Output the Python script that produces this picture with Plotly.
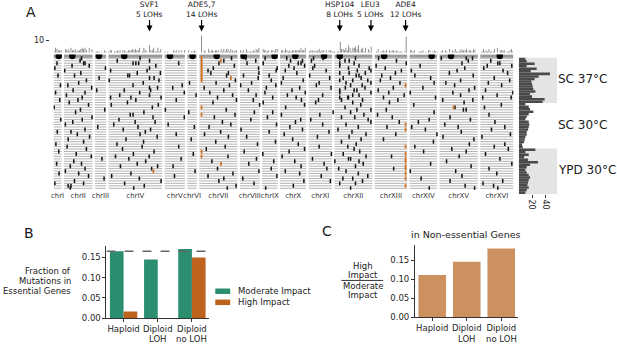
import plotly.graph_objects as go

W, H = 617, 349
def px(x): return x / W
def py(y): return 1 - y / H

FONT = "DejaVu Sans"

# ---------------- data ----------------
chrom_names = ["chrI", "chrII", "chrIII", "chrIV", "chrV", "chrVI", "chrVII", "chrVIII",
               "chrIX", "chrX", "chrXI", "chrXII", "chrXIII", "chrXIV", "chrXV", "chrXVI"]
chrom_len_kb = [230.2, 813.2, 316.6, 1531.9, 576.9, 270.2, 1090.9, 562.6,
                439.9, 745.8, 666.8, 1078.2, 924.4, 784.3, 1091.3, 948.1]
centromere_kb = [151.5, 238.2, 114.4, 449.7, 151.9, 148.5, 496.9, 105.6,
                 355.6, 436.3, 440.1, 150.9, 268.0, 628.8, 326.6, 555.9]

# mutations per clone: "chromosome:kb", suffix o = highlighted (orange)
sc37_rows = [
    "2:500 4:900 7:65o 7:920 8:170 9:85 10:190 11:140 11:410 12:150 12:600 13:110 15:50 15:760 15:940",
    "2:460 4:250 4:1170 7:65o 7:615o 7:700 8:450 10:300 10:640 11:80 12:300 12:420 13:620 15:820 16:300",
    "1:100 2:560 2:600 4:700 4:780 4:860 5:400 7:65o 7:560 8:200 9:30 10:520 10:600 12:150 12:560 13:900 15:640 16:500 16:560",
    "2:230 2:720 4:1350 7:65o 7:1000 10:250 10:700 11:170 12:150 12:700 13:40 14:300 16:200 16:900",
    "1:40 3:300 4:1170 7:65o 7:400 8:530 9:430 10:400 11:120 12:400 12:990 13:300 15:720 16:100",
    "2:20 4:60 4:1100 7:65o 7:250 9:400 10:150 11:500 12:1040 12:650 13:760 14:50 15:500 16:650",
    "2:480 4:820 4:1480 7:65o 7:330 7:830 8:540 10:480 12:150 12:420 12:880 13:590 15:280 16:780",
    "1:130 2:300 4:550 4:600 7:65o 7:780 8:100 9:200 11:30 12:620 12:700 13:200 14:150 15:960",
    "3:120 4:1170 4:1300 7:65o 7:900o 8:520 10:90 11:600 12:250 12:760 13:450 14:600 16:400",
    "2:640 4:20 4:1440 7:65o 7:1030 9:260 10:660 12:150 12:520 12:950 13:160 15:600 16:840",
    "2:420 4:990 6:60 7:480 8:330 10:40 11:300 12:1040 12:330 13:720 14:700 15:180 16:230",
    "1:200 2:110 4:700 5:500 7:860 8:20 9:390 11:220 12:460 12:790 13:880o 15:430 16:610",
    "2:790 4:1170 4:1400 5:230 7:140 9:120 10:560 11:640 12:310 12:870 13:530 14:380 15:1000",
    "2:260 3:50 4:450 4:1200 7:700 8:240 10:340 12:150 12:560 12:640 13:100 15:840 16:150",
    "1:60 2:600 4:890 5:560 7:300 9:80 10:720 12:150 12:1040 13:400 14:20 15:380 16:930",
    "2:70 4:1170 4:320 6:250 7:950 8:460 10:210 11:400 12:520 12:700 13:840 15:600 16:480",
    "2:520 4:60 4:640 4:1500 7:520 9:300 10:460 12:150 12:380 12:400 13:250 14:740 16:70 16:880",
    "1:180 2:400 4:780 5:330 7:1060 8:380 10:610 11:280 12:200 12:800 13:660 15:90 15:950",
]
sc30_rows = [
    "2:150 4:540 7:390 9:30 11:200 12:520 13:420 15:700",
    "2:700 4:80 4:1420 8:560 10:700 12:750 14:120 16:600",
    "1:20 4:1250 7:65o 10:160 12:300 15:400o 15:440 16:120",
    "2:470 3:280 5:20 7:770 12:1040 12:640 13:330 15:680 15:760",
    "2:330 4:1010 6:40 8:410 9:300 11:700 12:460 14:700",
    "4:620 4:700 7:65o 7:1020 10:40 11:320 12:840 13:80 16:250",
    "2:800 4:1270 5:560 7:430 9:150 12:200 12:580 13:500 15:300",
    "1:210 2:520 4:300 8:310 10:590 11:60 12:960 14:560 15:880",
    "2:250 4:760 4:1330 7:660 10:440 12:1040 13:700 14:250 16:420",
    "2:40 4:150 5:100 7:900 9:410 11:400 12:330 13:880o 15:150",
    "3:80 4:840 6:200 7:280 10:280 12:680 13:350 14:60 15:530 16:700",
    "2:600 4:420 4:1200 8:30 10:640 12:100 13:880o 14:450 16:320",
    "1:110 2:200 4:1050 7:610 9:200 11:580 12:500 15:620",
    "2:380 4:900 5:330 7:150 10:120 12:900 13:600 14:780 16:860",
    "2:730 4:1390 7:830 8:190 11:250 12:420 15:100 16:50",
    "2:120 4:500 6:110 10:360 12:760 13:250 15:980",
    "2:560 4:1000 7:470 9:380 12:200 14:680",
    "1:70 4:240 8:500 10:520 12:620 15:850 16:700",
]
ypd_rows = [
    "2:90 4:960 5:400 7:740 11:300 12:380 13:880o 14:150 16:400",
    "2:640 4:400 7:200 10:700 12:560 15:350 16:800",
    "1:150 4:1300 7:65o 8:120 10:260 12:720 14:400 15:760",
    "2:350 4:710 6:170 9:20 11:650 12:250 13:880o 16:150",
    "2:780 4:200 4:1160 7:65o 7:820 10:60 12:900 13:480 15:560",
    "3:200 4:580 5:470 8:470 11:110 12:400 12:460 13:880o 16:560",
    "2:280 4:1060 7:360 9:330 10:420 12:10 12:700 13:880o 15:200",
    "1:90 2:500 4:820 7:620o 8:250 11:440 12:820 14:600 16:900",
    "2:180 4:340 4:1400 5:240 10:600 12:600 13:880o 15:900",
    "2:600 4:1230 7:520 9:260 11:520 12:120 13:880o 13:540 16:250",
    "2:40 4:1280o 6:220 8:540 10:150 12:330 14:20 15:460",
    "1:160 2:420 4:640 7:960 10:560 12:680 13:880o 16:470",
    "2:700 4:90 5:280 7:250 9:420 11:360 12:950 15:640",
    "3:260 4:880 7:700 8:80 12:240 12:520 13:880o 14:330",
    "2:300 4:1500 7:560 10:680 11:620 12:800 15:300 16:640",
    "1:40 2:560 4:460 8:400 12:150 12:600 16:80",
    "2:120 2:200 4:1020 7:1050 10:380 13:880o 15:730 16:380",
    "2:180 4:720 7:800 9:100 12:460 14:560 15:1000 16:500",
]
env_labels = ["SC 37°C", "SC 30°C", "YPD 30°C"]

# mutations per clone (right histogram)
clone_counts = [10, 12, 24, 12, 27, 18, 47, 30, 24, 19, 20, 21, 22, 25, 17, 20, 39, 36,
                10, 15, 17, 22, 15, 12, 10, 15, 16, 15, 14, 12, 12, 10, 9, 8, 5, 6,
                25, 10, 15, 8, 14, 29, 17, 12, 10, 12, 15, 17, 15, 14, 13, 15, 12, 10]

genes = ["SVF1", "ADE5,7", "HSP104", "LEU3", "ADE4"]
gene_lohs = [5, 14, 8, 5, 12]
gene_chrom = [4, 7, 12, 12, 13]
gene_kb = [1170, 65, 150, 1040, 880]

group_line1 = ["Haploid", "Diploid", "Diploid"]
group_line2 = ["", "LOH", "no LOH"]
essential_moderate = [0.1655, 0.145, 0.171]
essential_high = [0.0163, 0.0, 0.150]
essential_expected = 0.1655
nonessential_ratio = [0.111, 0.146, 0.181]

# ---------------- derived ----------------
GAP = 70
offsets = []
acc = 0.0
for L in chrom_len_kb:
    offsets.append(acc)
    acc += L + GAP
genome_end = acc - GAP

all_rows = sc37_rows + sc30_rows + ypd_rows
n_rows = len(all_rows)

line_x, line_y = [], []
for r in range(1, n_rows + 1):
    for o, L in zip(offsets, chrom_len_kb):
        line_x += [o, o + L, None]
        line_y += [r, r, None]

top_x, top_y = [], []
for o, L in zip(offsets, chrom_len_kb):
    top_x += [o, o + L, None]
    top_y += [0, 0, None]

blk_x, blk_y, org_x, org_y, all_pos = [], [], [], [], []
for r, s in enumerate(all_rows, start=1):
    for tok in s.split():
        c, kb = tok.split(":")
        orange = kb.endswith("o")
        kb = float(kb.rstrip("o"))
        g = offsets[int(c) - 1] + kb
        all_pos.append(g)
        if orange:
            org_x.append(g); org_y.append(r)
        else:
            blk_x.append(g); blk_y.append(r)

fig = go.Figure()

fig.add_trace(go.Scatter(x=line_x, y=line_y, mode="lines",
                         line=dict(color="#b4b4b4", width=1), hoverinfo="skip"))
fig.add_trace(go.Scatter(x=top_x, y=top_y, mode="lines",
                         line=dict(color="#999999", width=3.5), hoverinfo="skip"))
fig.add_trace(go.Scatter(x=[o + c for o, c in zip(offsets, centromere_kb)], y=[0] * 16,
                         mode="markers", marker=dict(color="black", size=6.5)))
fig.add_trace(go.Scatter(x=blk_x, y=blk_y, mode="markers",
                         marker=dict(symbol="line-ns", size=2.8, line=dict(width=1.5, color="#111111"))))
fig.add_trace(go.Scatter(x=org_x, y=org_y, mode="markers",
                         marker=dict(symbol="line-ns", size=2.8, line=dict(width=1.7, color="#d0711f"))))

fig.add_trace(go.Histogram(x=all_pos, xbins=dict(start=0, end=genome_end, size=40),
                           marker=dict(color="#707070", line=dict(width=0)),
                           xaxis="x2", yaxis="y2"))

fig.add_trace(go.Bar(x=clone_counts, y=list(range(1, n_rows + 1)), orientation="h",
                     width=1, marker=dict(color="#4a4a4a", line=dict(width=0)),
                     xaxis="x3", yaxis="y3"))

fig.add_trace(go.Bar(x=[0, 1, 2], y=essential_moderate, width=0.4, offset=-0.4,
                     marker=dict(color="#2b8e70", line=dict(width=0)),
                     name="Moderate Impact", xaxis="x4", yaxis="y4"))
fig.add_trace(go.Bar(x=[0, 1, 2], y=essential_high, width=0.4, offset=0,
                     marker=dict(color="#be631d", line=dict(width=0)),
                     name="High Impact", xaxis="x4", yaxis="y4"))

fig.add_trace(go.Bar(x=[0, 1, 2], y=nonessential_ratio, width=0.8,
                     marker=dict(color="#cc915f", line=dict(width=0)),
                     xaxis="x5", yaxis="y5"))

tickfont = dict(family=FONT, size=8.5, color="#262626")
chrom_centers = [o + L / 2 for o, L in zip(offsets, chrom_len_kb)]

fig.update_layout(
    width=W, height=H, margin=dict(l=0, r=0, t=0, b=0),
    paper_bgcolor="white", plot_bgcolor="rgba(0,0,0,0)",
    showlegend=False, bargap=0.45, hovermode=False,
    font=dict(family=FONT, color="#262626"),
    xaxis=dict(domain=[px(50.7), px(513)], range=[0, genome_end], anchor="y",
               tickvals=chrom_centers, ticktext=chrom_names, ticks="", tickangle=0,
               tickfont=dict(family=FONT, size=7, color="#333"),
               showgrid=False, zeroline=False, showline=False),
    yaxis=dict(domain=[py(192.5), py(55.2)], range=[n_rows + 0.6, -0.6], anchor="x",
               visible=False, showgrid=False, zeroline=False),
    xaxis2=dict(domain=[px(50.7), px(513)], range=[0, genome_end], anchor="y2",
                visible=False, showgrid=False, zeroline=False),
    yaxis2=dict(domain=[py(53.5), py(28.5)], range=[0, 20], anchor="free", position=px(46),
                tickvals=[10], ticks="outside", ticklen=3, tickcolor="#333",
                tickfont=dict(family=FONT, size=8, color="#262626"),
                showgrid=False, zeroline=False, showline=False),
    xaxis3=dict(domain=[px(518.3), px(556.7)], range=[0, 57.6], anchor="y3",
                tickvals=[20, 40], tickangle=90, ticks="outside", ticklen=3, tickcolor="#333",
                tickfont=dict(family=FONT, size=8, color="#262626"),
                showgrid=False, zeroline=False, showline=False),
    yaxis3=dict(domain=[py(196.7), py(58.3)], range=[n_rows + 0.5, 0.5], anchor="x3",
                visible=False, showgrid=False, zeroline=False),
    xaxis4=dict(domain=[px(104), px(207)], range=[-0.5, 2.5], anchor="y4",
                tickvals=[0, 1, 2], ticktext=group_line1, ticks="outside", ticklen=3,
                tickcolor="#333", tickfont=tickfont, showline=True, linecolor="#333",
                linewidth=1, showgrid=False, zeroline=False, tickangle=0),
    yaxis4=dict(domain=[py(322.7), py(249.3)], range=[0, 0.179], anchor="x4",
                tickvals=[0, 0.05, 0.10, 0.15], tickformat=".2f", ticks="outside", ticklen=3,
                tickcolor="#333", tickfont=tickfont, showline=True, linecolor="#333",
                linewidth=1, showgrid=False, zeroline=False),
    xaxis5=dict(domain=[px(414), px(518)], range=[-0.5, 2.5], anchor="y5",
                tickvals=[0, 1, 2], ticktext=group_line1, ticks="outside", ticklen=3,
                tickcolor="#333", tickfont=tickfont, showline=True, linecolor="#333",
                linewidth=1, showgrid=False, zeroline=False, tickangle=0),
    yaxis5=dict(domain=[py(321.7), py(248.3)], range=[0, 0.191], anchor="x5",
                tickvals=[0, 0.05, 0.10, 0.15], tickformat=".2f", ticks="outside", ticklen=3,
                tickcolor="#333", tickfont=tickfont, showline=True, linecolor="#333",
                linewidth=1, showgrid=False, zeroline=False),
)

shapes = [
    dict(type="rect", xref="x3", yref="y3", x0=0, x1=57.6, y0=0.5, y1=18.5,
         fillcolor="#e4e4e4", line=dict(width=0), layer="below"),
    dict(type="rect", xref="x3", yref="y3", x0=0, x1=57.6, y0=36.5, y1=54.5,
         fillcolor="#e4e4e4", line=dict(width=0), layer="below"),
    dict(type="line", xref="x4", yref="y4", x0=-0.5, x1=2.5,
         y0=essential_expected, y1=essential_expected,
         line=dict(color="#666666", width=1.6, dash="dash")),
    dict(type="rect", xref="paper", yref="paper", x0=px(213.3), x1=px(228.3),
         y0=py(298.3), y1=py(292.7), fillcolor="#2b8e70", line=dict(width=0)),
    dict(type="rect", xref="paper", yref="paper", x0=px(213.3), x1=px(228.3),
         y0=py(309.5), y1=py(303.9), fillcolor="#be631d", line=dict(width=0)),
    dict(type="line", xref="paper", yref="paper", x0=px(340), x1=px(382),
         y0=py(284.5), y1=py(284.5), line=dict(color="#333", width=1)),
]
fig.update_layout(shapes=shapes)

ann = []
def txt(x, y, text, size, xanchor="center", yanchor="middle", align="center"):
    ann.append(dict(x=px(x), y=py(y), xref="paper", yref="paper", text=text,
                    showarrow=False, xanchor=xanchor, yanchor=yanchor, align=align,
                    font=dict(family=FONT, size=size, color="#1a1a1a")))

txt(28, 12, "A", 14)
txt(26, 236, "B", 14)
txt(326, 234, "C", 14)
txt(556, 80, env_labels[0], 12, xanchor="left")
txt(556, 127, env_labels[1], 12, xanchor="left")
txt(556, 172, env_labels[2], 12, xanchor="left")
for yy, t in zip([275, 285, 295], ["Fraction of", "Mutations in", "Essential Genes"]):
    txt(70, yy, t, 8.5, xanchor="right", align="right")
txt(234, 295.5, "Moderate Impact", 8.5, xanchor="left")
txt(234, 306.7, "High Impact", 8.5, xanchor="left")
txt(465.7, 238, "in Non-essential Genes", 9.5)
for yy, t in zip([270, 279.5, 289.7, 299], ["High", "Impact", "Moderate", "Impact"]):
    txt(361.7, yy, t, 8.5)

# second line of the group tick labels
for xa in ["x4", "x5"]:
    for i, t in enumerate(group_line2):
        if t:
            ann.append(dict(x=i, y=py(343.5), xref=xa, yref="paper", text=t,
                            showarrow=False, xanchor="center", yanchor="middle",
                            font=tickfont))

for g, n, c, kb in zip(genes, gene_lohs, gene_chrom, gene_kb):
    ann.append(dict(x=offsets[c - 1] + kb, y=py(32), xref="x", yref="paper",
                    text=f"{g}<br>{n} LOHs", showarrow=True, ax=0, ay=-22.5,
                    arrowhead=2, arrowsize=1, arrowwidth=1.2, arrowcolor="black",
                    font=dict(family=FONT, size=7.5, color="#1a1a1a")))
fig.update_layout(annotations=ann)

fig.write_html("out.html",
               config={"displayModeBar": False, "staticPlot": True},
               post_script="document.body.style.margin='0';document.body.style.overflow='hidden';")
